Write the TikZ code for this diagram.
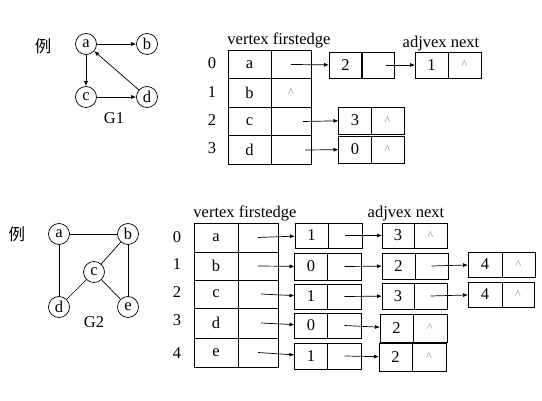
\documentclass[tikz,border=0pt]{standalone}
\usepackage{fontspec}
\setmainfont{Liberation Serif}
\newfontfamily\cjk{Noto Sans CJK SC}
\usetikzlibrary{arrows.meta}
\definecolor{caretc}{RGB}{190,120,50}
\begin{document}
\begin{tikzpicture}[x=1pt, y=-1pt, >={Latex[length=5pt,width=4pt]}, line width=0.7pt,
    font=\fontsize{16.5}{18}\selectfont,
    vtx/.style={draw, circle, inner sep=0pt, minimum size=21pt},
    cell/.style={draw, rectangle, inner sep=0pt, outer sep=0pt, minimum width=#1},
    vcell/.style={cell=43pt, minimum height=28.5pt},
    pcell/.style={cell=40pt, minimum height=28.5pt},
    ecell/.style={cell=33pt, minimum height=26pt},
    nul/.style={font=\fontsize{12}{14}\selectfont, text=caretc}]
\useasboundingbox (0,0) rectangle (542,401);

% G1
\node[font=\cjk\fontsize{16.5}{18}\selectfont] (li1) at (43,46) {例};
\node[vtx] (a1) at (86,44) {a};
\node[vtx] (b1) at (147,44) {b};
\node[vtx] (c1) at (86,97) {c};
\node[vtx] (d1) at (147,97) {d};
\node (g1) at (114,118) {G1};
\draw[->] (a1) -- (b1);
\draw[->] (a1) -- (c1);
\draw[->] (c1) -- (d1);
\draw[->] (d1) -- (a1);

% adjacency list of G1
\node (hd1) at (279,40) {vertex firstedge};
\node (ha1) at (441,44) {adjvex next};
\node[vcell] (v10) at (249.5,64.5) {a};
\node[pcell] (p10) at (291,64.5) {};
\node[vcell] (v11) at (249.5,93) {b};
\node[pcell, nul] (p11) at (291,93) {\textasciicircum};
\node[vcell] (v12) at (249.5,121.5) {c};
\node[pcell] (p12) at (291,121.5) {};
\node[vcell] (v13) at (249.5,150) {d};
\node[pcell] (p13) at (291,150) {};
\node (i10) at (212,63) {0};
\node (i11) at (212,92) {1};
\node (i12) at (212,120) {2};
\node (i13) at (212,148) {3};

% edge nodes of G1
\node[ecell] (e10) at (345.5,65) {2};
\node[ecell] (n10) at (378,65) {};
\node[ecell] (e11) at (431.5,65) {1};
\node[ecell, nul] (n11) at (464.5,65) {\textasciicircum};
\node[ecell, minimum height=27pt] (e12) at (355,120.5) {3};
\node[ecell, minimum height=27pt, nul] (n12) at (387.5,120.5) {\textasciicircum};
\node[ecell, minimum height=27pt] (e13) at (355,149.5) {0};
\node[ecell, minimum height=27pt, nul] (n13) at (387.5,149.5) {\textasciicircum};
\draw[->] (p10.center) -- (e10);
\draw[->] ([xshift=8pt]n10.center) -- (e11);
\draw[->] ([xshift=12pt]p12.center) -- (e12);
\draw[->] ([xshift=14pt]p13.center) -- (e13);

% G2
\node[font=\cjk\fontsize{16.5}{18}\selectfont] (li2) at (17,234) {例};
\node[vtx] (a2) at (59,234) {a};
\node[vtx] (b2) at (128,234) {b};
\node[vtx] (c2) at (94,272) {c};
\node[vtx] (d2) at (59,307) {d};
\node[vtx] (e2) at (128,307) {e};
\node (g2) at (94,322) {G2};
\draw (a2) -- (b2);
\draw (a2) -- (d2);
\draw (b2) -- (c2);
\draw (b2) -- (e2);
\draw (c2) -- (d2);
\draw (c2) -- (e2);

% adjacency list of G2
\node (hd2) at (245,213) {vertex firstedge};
\node (ha2) at (406,214) {adjvex next};
\node[vcell, minimum width=44pt, minimum height=29pt] (v20) at (216,237.5) {a};
\node[pcell, minimum height=29pt] (p20) at (258,237.5) {};
\node[vcell, minimum width=44pt, minimum height=28pt] (v21) at (216,266) {b};
\node[pcell, minimum height=28pt] (p21) at (258,266) {};
\node[vcell, minimum width=44pt, minimum height=28pt] (v22) at (216,294) {c};
\node[pcell, minimum height=28pt] (p22) at (258,294) {};
\node[vcell, minimum width=44pt, minimum height=30pt] (v23) at (216,323) {d};
\node[pcell, minimum height=30pt] (p23) at (258,323) {};
\node[vcell, minimum width=44pt, minimum height=29pt] (v24) at (216,352.5) {e};
\node[pcell, minimum height=29pt] (p24) at (258,352.5) {};
\node (i20) at (177,237) {0};
\node (i21) at (177,264) {1};
\node (i22) at (177,292) {2};
\node (i23) at (177,320) {3};
\node (i24) at (177,353) {4};

% first edge nodes of G2
\node[ecell, minimum height=25pt] (e20) at (311.5,235.5) {1};
\node[ecell, minimum width=34pt, minimum height=25pt] (n20) at (345,235.5) {};
\node[ecell, minimum height=27pt] (e21) at (311,266.5) {0};
\node[ecell, minimum width=34pt, minimum height=27pt] (n21) at (344.5,266.5) {};
\node[ecell, minimum height=25pt] (e22) at (311,296.5) {1};
\node[ecell, minimum width=34pt, minimum height=25pt] (n22) at (344.5,296.5) {};
\node[ecell, minimum height=25pt] (e23) at (311,325.5) {0};
\node[ecell, minimum width=34pt, minimum height=25pt] (n23) at (344.5,325.5) {};
\node[ecell, minimum height=26pt] (e24) at (311,356) {1};
\node[ecell, minimum width=34pt, minimum height=26pt] (n24) at (344.5,356) {};
\draw[->] (p20.center) -- (e20);
\draw[->] (p21.center) -- (e21);
\draw[->] ([xshift=3pt]p22.center) -- (e22);
\draw[->] ([xshift=3pt]p23.center) -- (e23);
\draw[->] (p24.center) -- (e24);

% second edge nodes of G2
\node[ecell, minimum width=32pt, minimum height=25pt] (f20) at (398,235.5) {3};
\node[ecell, minimum height=25pt, nul] (m20) at (430.5,235.5) {\textasciicircum};
\node[ecell, minimum height=26pt] (f21) at (398.5,266) {2};
\node[ecell, minimum height=26pt] (m21) at (431.5,266) {};
\node[ecell, minimum width=32pt, minimum height=26pt] (f22) at (398,296) {3};
\node[ecell, minimum height=26pt] (m22) at (430.5,296) {};
\node[ecell, minimum height=28pt] (f23) at (396.5,328) {2};
\node[ecell, minimum width=34pt, minimum height=28pt, nul] (m23) at (430,328) {\textasciicircum};
\node[ecell, minimum height=28pt] (f24) at (395.5,357) {2};
\node[ecell, minimum width=34pt, minimum height=28pt, nul] (m24) at (429,357) {\textasciicircum};
\draw[->] (n20.center) -- (f20);
\draw[->] (n21.center) -- (f21);
\draw[->] (n22.center) -- (f22);
\draw[->] (n23.center) -- (f23);
\draw[->] (n24.center) -- (f24);

% third edge nodes of G2
\node[ecell, minimum width=34pt, minimum height=25pt] (g21) at (485,264.5) {4};
\node[ecell, minimum height=25pt, nul] (h21) at (518.5,264.5) {\textasciicircum};
\node[ecell, minimum width=34pt, minimum height=25pt] (g22) at (485,294.5) {4};
\node[ecell, minimum width=32pt, minimum height=25pt, nul] (h22) at (518,294.5) {\textasciicircum};
\draw[->] (m21.center) -- (g21);
\draw[->] (m22.center) -- (g22);
\end{tikzpicture}
\end{document}
